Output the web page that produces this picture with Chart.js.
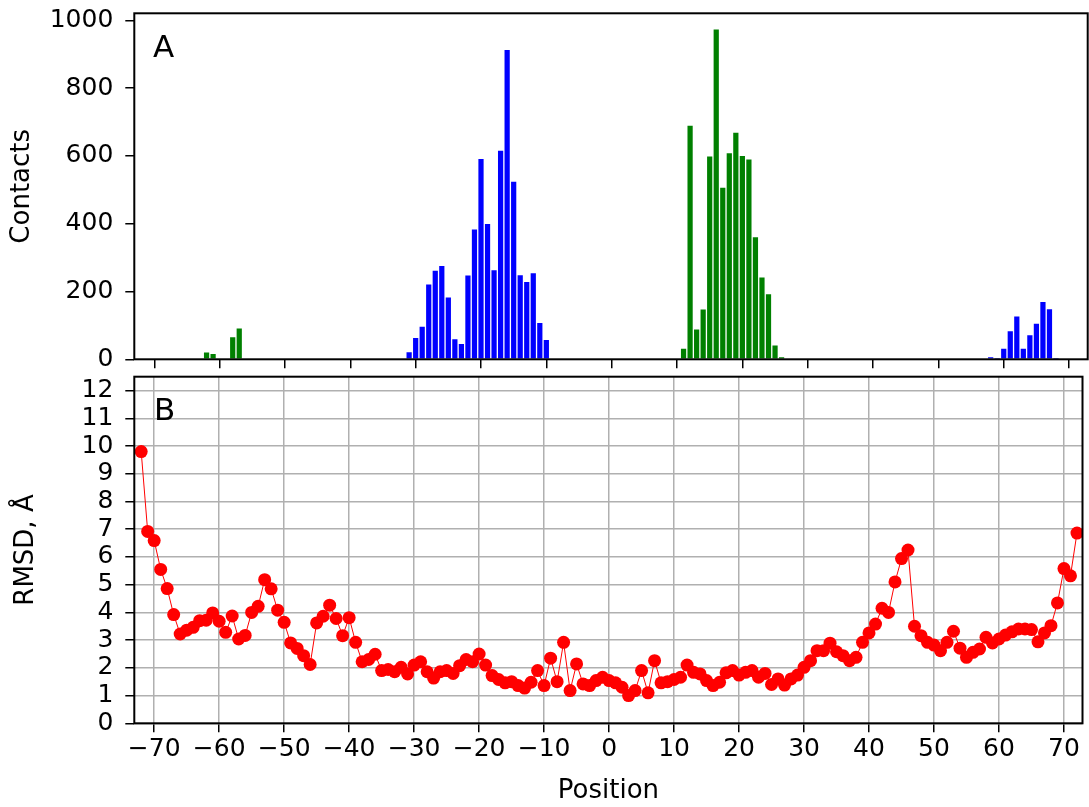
<!DOCTYPE html>
<html>
<head>
<meta charset="utf-8">
<script src="https://cdn.jsdelivr.net/npm/chart.js@4.4.1/dist/chart.umd.min.js"></script>
<style>
  body { margin: 0; background: #fff; }
  canvas { position: absolute; left: 0; }
</style>
</head>
<body>
<canvas id="contacts" width="1089" height="370" style="top:0"></canvas>
<canvas id="rmsd" width="1089" height="437" style="top:370px"></canvas>
<script>
// contacts per position, two groups of bars
const bluePositions = [-31, -30, -29, -28, -27, -26, -25, -24, -23, -22, -21, -20, -19, -18, -17, -16, -15, -14, -13, -12, -11, -10,
  58, 59, 60, 61, 62, 63, 64, 65, 66, 67, 68];
const blueContacts = [21, 63, 96, 221, 261, 275, 182, 59, 45, 247, 383, 591, 399, 263, 615, 912, 524, 248, 228, 254, 107, 57,
  6, 4, 31, 83, 126, 31, 71, 105, 169, 148, 4];
const greenPositions = [-62, -61, -58, -57,
  11, 12, 13, 14, 15, 16, 17, 18, 19, 20, 21, 22, 23, 24, 25, 26];
const greenContacts = [20, 16, 65, 91,
  31, 689, 88, 147, 598, 973, 506, 608, 668, 600, 589, 360, 241, 192, 41, 6];

// RMSD per position, starting at rmsdStart
const rmsdStart = -72;
const rmsdValues = [
  9.80, 6.92, 6.59, 5.55, 4.86, 3.92, 3.22, 3.36, 3.46, 3.70, 3.72, 3.98, 3.68, 3.28, 3.87, 3.04, 3.17, 4.00, 4.22, 5.18,
  4.85, 4.08, 3.64, 2.90, 2.70, 2.44, 2.12, 3.62, 3.86, 4.26, 3.78, 3.16, 3.81, 2.92, 2.22, 2.30, 2.49, 1.90, 1.94, 1.86,
  2.02, 1.78, 2.10, 2.22, 1.86, 1.63, 1.86, 1.90, 1.80, 2.08, 2.30, 2.22, 2.50, 2.10, 1.72, 1.58, 1.46, 1.50, 1.36, 1.27,
  1.48, 1.90, 1.36, 2.35, 1.50, 2.92, 1.18, 2.14, 1.42, 1.36, 1.54, 1.66, 1.54, 1.46, 1.30, 1.00, 1.18, 1.90, 1.10, 2.26,
  1.46, 1.50, 1.58, 1.66, 2.10, 1.84, 1.78, 1.54, 1.36, 1.48, 1.82, 1.90, 1.74, 1.84, 1.90, 1.66, 1.80, 1.40, 1.60, 1.38,
  1.60, 1.74, 2.02, 2.26, 2.62, 2.62, 2.89, 2.58, 2.44, 2.26, 2.38, 2.92, 3.26, 3.58, 4.15, 4.00, 5.10, 5.94, 6.25, 3.50,
  3.16, 2.92, 2.82, 2.62, 2.92, 3.32, 2.71, 2.38, 2.56, 2.68, 3.10, 2.90, 3.04, 3.18, 3.30, 3.40, 3.40, 3.38, 2.94, 3.26,
  3.52, 4.34, 5.58, 5.32, 6.86
];

const xTicks = [-70, -60, -50, -40, -30, -20, -10, 0, 10, 20, 30, 40, 50, 60, 70];
const contactTicks = [0, 200, 400, 600, 800, 1000];
const rmsdTicks = [0, 1, 2, 3, 4, 5, 6, 7, 8, 9, 10, 11, 12];

Chart.defaults.font.family = "'DejaVu Sans', sans-serif";
Chart.defaults.color = '#000';
Chart.defaults.animation = false;

const X_MIN = -73.06, X_MAX = 72.85;
const AXIS_W = 134.3;

function minusSign(v) {
  return v < 0 ? '\u2212' + Math.abs(v) : '' + v;
}

// black frame round the plot + panel letter
function framePlugin(letter, lx, ly) {
  return {
    id: 'frame' + letter,
    afterDraw(chart) {
      const a = chart.chartArea;
      const ctx = chart.ctx;
      ctx.save();
      ctx.strokeStyle = '#000';
      ctx.lineWidth = 2;
      ctx.strokeRect(a.left, a.top, a.right - a.left, a.bottom - a.top);
      ctx.fillStyle = '#000';
      ctx.font = "31px 'DejaVu Sans'";
      ctx.textBaseline = 'alphabetic';
      ctx.fillText(letter, lx, ly);
      ctx.restore();
    }
  };
}

function xAxis(showLabels, gridOnArea, height) {
  return {
    type: 'linear',
    min: X_MIN,
    max: X_MAX,
    offset: false,
    afterBuildTicks: (ax) => { ax.ticks = xTicks.map(v => ({ value: v })); },
    afterFit: (ax) => {
      ax.height = height;
      ax.paddingLeft = 0;
      ax.paddingRight = 0;
    },
    border: { display: false },
    grid: {
      offset: false,
      drawOnChartArea: gridOnArea,
      color: '#b0b0b0',
      lineWidth: 1.5,
      tickLength: 9,
      tickColor: '#000',
      tickWidth: 1.5
    },
    ticks: {
      display: showLabels,
      padding: 2,
      maxRotation: 0,
      autoSkip: false,
      font: { size: 25 },
      callback: (v) => minusSign(v)
    },
    title: {
      display: showLabels,
      text: 'Position',
      font: { size: 26 },
      padding: { top: 0, bottom: 0 }
    }
  };
}

function yAxis(max, tickList, gridOnArea, label, titlePad) {
  return {
    min: 0,
    max: max,
    afterBuildTicks: (ax) => { ax.ticks = tickList.map(v => ({ value: v })); },
    afterFit: (ax) => {
      ax.width = AXIS_W;
      ax.paddingTop = 0;
      ax.paddingBottom = 0;
    },
    border: { display: false },
    grid: {
      drawOnChartArea: gridOnArea,
      color: '#b0b0b0',
      lineWidth: 1.5,
      tickLength: 9,
      tickColor: '#000',
      tickWidth: 1.5
    },
    ticks: {
      padding: 12,
      autoSkip: false,
      font: { size: 25 },
      callback: (v) => '' + v
    },
    title: {
      display: true,
      text: label,
      font: { size: 26 },
      padding: { top: titlePad, bottom: 0 }
    }
  };
}

new Chart(document.getElementById('contacts'), {
  type: 'bar',
  data: {
    datasets: [
      {
        data: bluePositions.map((p, i) => ({ x: p, y: blueContacts[i] })),
        backgroundColor: '#0000ff',
        grouped: false,
        barPercentage: 0.8,
        categoryPercentage: 1.0
      },
      {
        data: greenPositions.map((p, i) => ({ x: p, y: greenContacts[i] })),
        backgroundColor: '#008000',
        grouped: false,
        barPercentage: 0.8,
        categoryPercentage: 1.0
      }
    ]
  },
  options: {
    responsive: false,
    layout: { padding: { top: 13.3, right: 1.3, left: 0, bottom: 0 } },
    plugins: { legend: { display: false }, tooltip: { enabled: false } },
    scales: {
      x: xAxis(false, false, 10.7),
      y: yAxis(1020.6, contactTicks, false, 'Contacts', 7)
    }
  },
  plugins: [framePlugin('A', 153, 57)]
});

new Chart(document.getElementById('rmsd'), {
  type: 'line',
  data: {
    datasets: [{
      data: rmsdValues.map((v, i) => ({ x: rmsdStart + i, y: v })),
      borderColor: '#ff0000',
      backgroundColor: '#ff0000',
      borderWidth: 1,
      pointRadius: 6.5,
      pointBorderWidth: 0,
      pointBackgroundColor: '#ff0000',
      tension: 0
    }]
  },
  options: {
    responsive: false,
    layout: { padding: { top: 6.7, right: 1.3, left: 0, bottom: 0 } },
    plugins: { legend: { display: false }, tooltip: { enabled: false } },
    scales: {
      x: xAxis(true, true, 83.7),
      y: yAxis(12.5, rmsdTicks, true, 'RMSD, \u00c5', 11)
    }
  },
  plugins: [framePlugin('B', 154, 50)]
});
</script>
</body>
</html>
